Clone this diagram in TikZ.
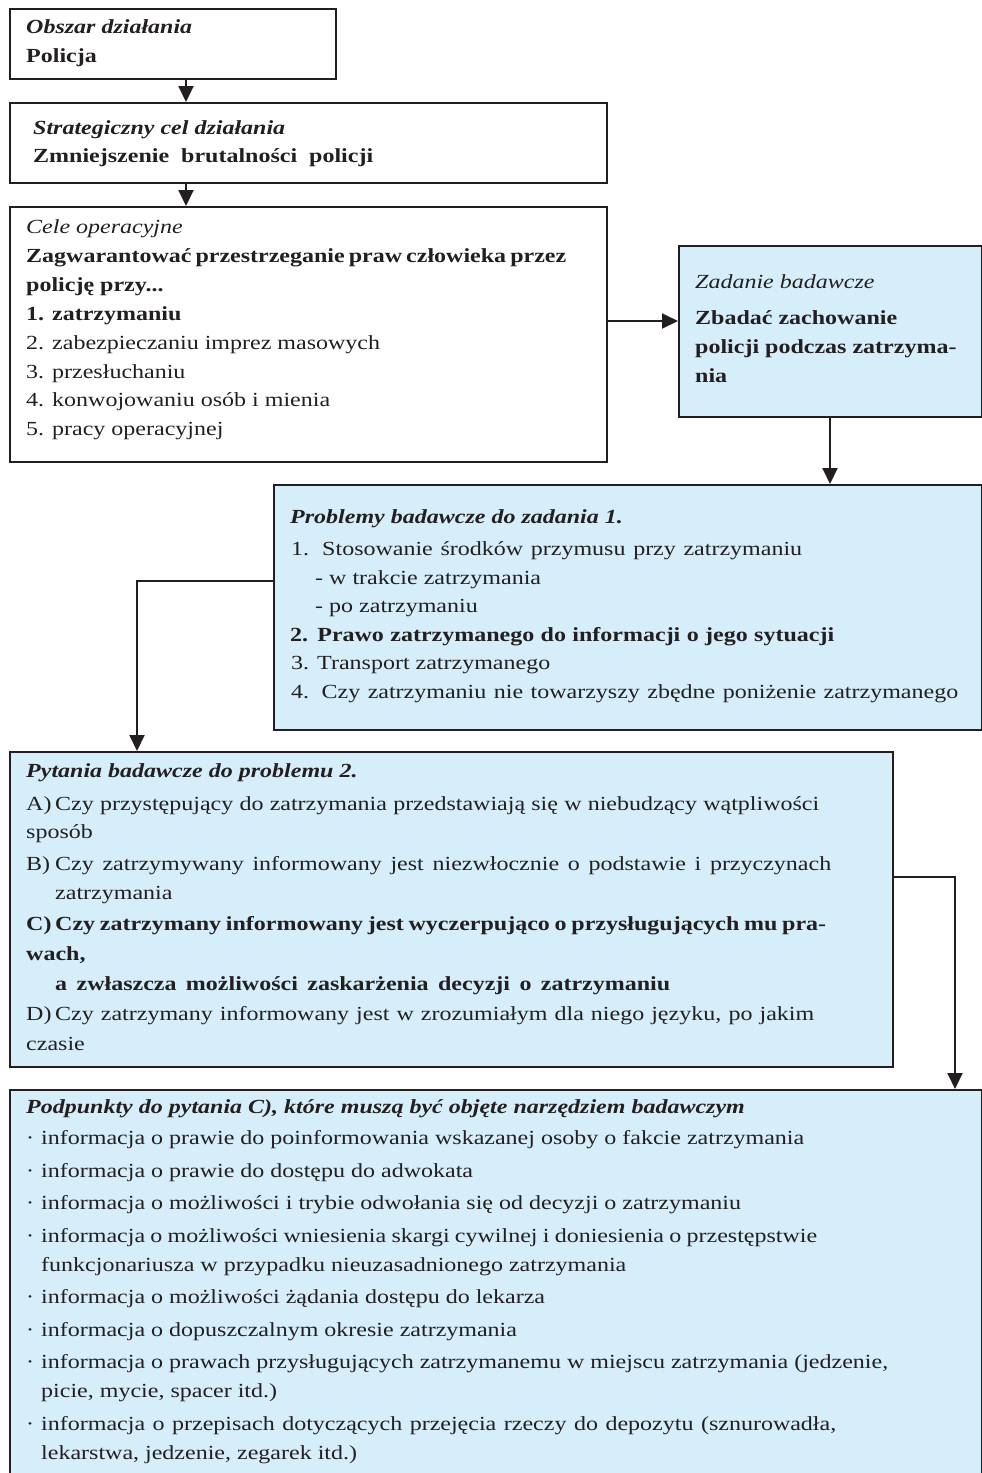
\documentclass[tikz,border=0pt]{standalone}
\usepackage{fontspec}
\setmainfont{Liberation Serif}[FakeStretch=1.2]
\usetikzlibrary{arrows.meta}
\definecolor{ink}{HTML}{231F20}
\definecolor{paleblue}{HTML}{D5EEFA}
\tikzset{
  box/.style={draw=ink, line width=2.4pt, anchor=north west, inner sep=0pt},
  wbox/.style={box, fill=white},
  bbox/.style={box, fill=paleblue},
  ln/.style={anchor=base west, inner sep=0pt, text=ink, font=\fontsize{20}{24}\selectfont},
  arr/.style={draw=ink, line width=2pt, -{Triangle[length=16pt,width=15pt]}},
}
% hanging label, bullet and justified line helpers
\newcommand{\lbl}[1]{\makebox[29pt][l]{#1}}
\newcommand{\dotb}{\makebox[15pt][l]{\textperiodcentered}}
\newcommand{\jw}[2]{\makebox[#1][s]{#2}}
\begin{document}
\begin{tikzpicture}[x=1pt,y=-1pt]
\useasboundingbox (0,0) rectangle (982,1473);
\fill[white] (0,0) rectangle (982,1473);

% boxes
\node[wbox, minimum width=326pt, minimum height=70pt]  (b1) at (9,8) {};
\node[wbox, minimum width=597pt, minimum height=80pt]  (b2) at (9,102) {};
\node[wbox, minimum width=597pt, minimum height=255pt] (b3) at (9,206) {};
\node[bbox, minimum width=303pt, minimum height=171pt] (b4) at (678,245) {};
\node[bbox, minimum width=708pt, minimum height=245pt] (b5) at (273,484) {};
\node[bbox, minimum width=883pt, minimum height=315pt] (b6) at (9,751) {};
\node[bbox, minimum width=972pt, minimum height=420pt] (b7) at (9,1089) {};

% connectors
\draw[arr] ([xshift=177pt]b1.south west) -- ([xshift=177pt]b2.north west);
\draw[arr] ([xshift=177pt]b2.south west) -- ([xshift=177pt]b3.north west);
\draw[arr] (b3.east |- 0,321) -- (b4.west |- 0,321);
\draw[arr] (b4.south -| 830,0) -- (b5.north -| 830,0);
\draw[arr] (b5.west |- 0,581) -| (b6.north -| 137,0);
\draw[arr] (b6.east |- 0,877) -| (b7.north -| 955,0);

% texts: area of action
\node[ln] (t1a) at (26,33) {\textbf{\textit{Obszar działania}}};
\node[ln] (t1b) at (26,62) {\textbf{Policja}};
% strategic goal
\node[ln] (t2a) at (33,134) {\textbf{\textit{Strategiczny cel działania}}};
\node[ln] (t2b) at (33,162) {\textbf{\jw{340pt}{Zmniejszenie brutalności policji}}};
% operational goals
\node[ln] (t3a) at (26,233) {\textit{Cele operacyjne}};
\node[ln] (t3b) at (26,262) {\textbf{\jw{540pt}{Zagwarantować przestrzeganie praw człowieka przez}}};
\node[ln] (t3c) at (26,291) {\textbf{policję przy...}};
\node[ln] (t3d) at (26,320) {\textbf{1. zatrzymaniu}};
\node[ln] (t3e) at (26,349) {2. zabezpieczaniu imprez masowych};
\node[ln] (t3f) at (26,378) {3. przesłuchaniu};
\node[ln] (t3g) at (26,406) {4. konwojowaniu osób i mienia};
\node[ln] (t3h) at (26,435) {5. pracy operacyjnej};
% research task
\node[ln] (t4a) at (695,288) {\textit{Zadanie badawcze}};
\node[ln] (t4b) at (695,324) {\textbf{Zbadać zachowanie}};
\node[ln] (t4c) at (695,353) {\textbf{policji podczas zatrzyma-}};
\node[ln] (t4d) at (695,382) {\textbf{nia}};
% research problems
\node[ln] (t5a) at (290,523) {\textbf{\textit{Problemy badawcze do zadania 1.}}};
\node[ln] (t5b) at (291,555) {\jw{511pt}{1. Stosowanie środków przymusu przy zatrzymaniu}};
\node[ln] (t5c) at (315,584) {- w trakcie zatrzymania};
\node[ln] (t5d) at (315,612) {- po zatrzymaniu};
\node[ln] (t5e) at (290,641) {\textbf{\jw{544pt}{2. Prawo zatrzymanego do informacji o jego sytuacji}}};
\node[ln] (t5f) at (291,669) {3. Transport zatrzymanego};
\node[ln] (t5g) at (291,698) {\jw{667pt}{4. Czy zatrzymaniu nie towarzyszy zbędne poniżenie zatrzymanego}};
% research questions
\node[ln] (t6a) at (26,777) {\textbf{\textit{Pytania badawcze do problemu 2.}}};
\node[ln] (t6b) at (26,810) {\lbl{A)}\jw{764pt}{Czy przystępujący do zatrzymania przedstawiają się w niebudzący wątpliwości}};
\node[ln] (t6c) at (26,838) {sposób};
\node[ln] (t6d) at (26,870) {\lbl{B)}\jw{776pt}{Czy zatrzymywany informowany jest niezwłocznie o podstawie i przyczynach}};
\node[ln] (t6e) at (55,899) {zatrzymania};
\node[ln] (t6f) at (26,930) {\textbf{\lbl{C)}\jw{771pt}{Czy zatrzymany informowany jest wyczerpująco o przysługujących mu pra-}}};
\node[ln] (t6g) at (26,960) {\textbf{wach,}};
\node[ln] (t6h) at (55,990) {\textbf{\jw{615pt}{a zwłaszcza możliwości zaskarżenia decyzji o zatrzymaniu}}};
\node[ln] (t6i) at (26,1020) {\lbl{D)}\jw{759pt}{Czy zatrzymany informowany jest w zrozumiałym dla niego języku, po jakim}};
\node[ln] (t6j) at (26,1050) {czasie};
% sub-points
\node[ln] (t7a) at (26,1113) {\textbf{\textit{Podpunkty do pytania C), które muszą być objęte narzędziem badawczym}}};
\node[ln] (t7b) at (26,1144) {\dotb informacja o prawie do poinformowania wskazanej osoby o fakcie zatrzymania};
\node[ln] (t7c) at (26,1177) {\dotb informacja o prawie do dostępu do adwokata};
\node[ln] (t7d) at (26,1209) {\dotb informacja o możliwości i trybie odwołania się od decyzji o zatrzymaniu};
\node[ln] (t7e) at (26,1242) {\dotb\jw{776pt}{informacja o możliwości wniesienia skargi cywilnej i doniesienia o przestępstwie}};
\node[ln] (t7f) at (41,1271) {funkcjonariusza w przypadku nieuzasadnionego zatrzymania};
\node[ln] (t7g) at (26,1303) {\dotb informacja o możliwości żądania dostępu do lekarza};
\node[ln] (t7h) at (26,1336) {\dotb informacja o dopuszczalnym okresie zatrzymania};
\node[ln] (t7i) at (26,1368) {\dotb informacja o prawach przysługujących zatrzymanemu w miejscu zatrzymania (jedzenie,};
\node[ln] (t7j) at (41,1397) {picie, mycie, spacer itd.)};
\node[ln] (t7k) at (26,1430) {\dotb\jw{795pt}{informacja o przepisach dotyczących przejęcia rzeczy do depozytu (sznurowadła,}};
\node[ln] (t7l) at (41,1459) {lekarstwa, jedzenie, zegarek itd.)};
\end{tikzpicture}
\end{document}
